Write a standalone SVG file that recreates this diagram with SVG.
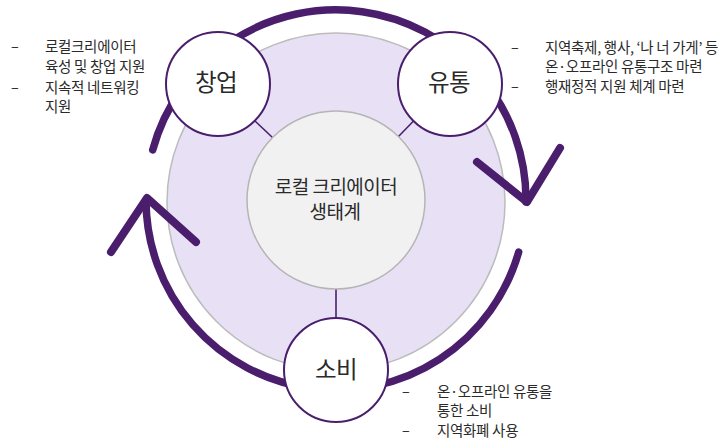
<svg xmlns="http://www.w3.org/2000/svg" width="727" height="445" viewBox="0 0 727 445">
<style>
.t{font-family:"Noto Sans CJK KR","Noto Sans",sans-serif;fill:#2a2a2a}
.list{font-size:14.5px;letter-spacing:-0.3px}
.node{font-size:23.5px;letter-spacing:-0.5px;text-anchor:middle}
.ctr{font-size:19px;letter-spacing:-0.5px;text-anchor:middle}
.arc{fill:none;stroke:#4a1e6c;stroke-width:7.5;stroke-linecap:round}
.head{fill:none;stroke:#4a1e6c;stroke-width:8;stroke-linecap:round;stroke-linejoin:round}
.conn{stroke:#4a1e6c;stroke-width:1.6}
.nc{fill:#ffffff;stroke:#4a1e6c;stroke-width:2}
</style>
<rect width="727" height="445" fill="#ffffff"/>
<g id="ring">
<circle cx="336" cy="202" r="169" fill="#e8e0f4" stroke="#bcbcbc" stroke-width="1.5"/>
</g>
<g id="cycle-arrows">
<path class="arc" d="M152.7,149.9 A190,190 0 0 1 526,202"/>
<polyline class="head" points="477,162 527,202 560,148"/>
<path class="arc" d="M518.7,252 A190,190 0 0 1 146,200"/>
<polyline class="head" points="111,252 147,198 196,242"/>
</g>
<g id="connectors">
<line class="conn" x1="255" y1="121" x2="273" y2="138"/>
<line class="conn" x1="413.5" y1="121" x2="398" y2="137"/>
<line class="conn" x1="336" y1="289" x2="336" y2="318"/>
</g>
<g id="center">
<circle cx="336" cy="200" r="89" fill="#f1f1f1" stroke="#b5b5b5" stroke-width="1.5"/>
<text class="t ctr" x="336" y="194">로컬 크리에이터</text>
<text class="t ctr" x="335" y="219">생태계</text>
</g>
<g id="node-startup">
<circle class="nc" cx="218" cy="84" r="52"/>
<text class="t node" x="216" y="91">창업</text>
</g>
<g id="node-distribution">
<circle class="nc" cx="450" cy="84" r="52"/>
<text class="t node" x="449" y="91">유통</text>
</g>
<g id="node-consumption">
<circle class="nc" cx="336" cy="370" r="52"/>
<text class="t node" x="336" y="378">소비</text>
</g>
<g id="notes-startup">
<text class="t list" x="11" y="52">–</text>
<text class="t list" x="45" y="52">로컬크리에이터</text>
<text class="t list" x="45" y="72">육성 및 창업 지원</text>
<text class="t list" x="11" y="93">–</text>
<text class="t list" x="45" y="93">지속적 네트워킹</text>
<text class="t list" x="45" y="112">지원</text>
</g>
<g id="notes-distribution">
<text class="t list" x="511" y="53">–</text>
<text class="t list" x="545" y="53">지역축제, 행사, ‘나 너 가게’ 등</text>
<text class="t list" x="545" y="72">온·오프라인 유통구조 마련</text>
<text class="t list" x="511" y="92">–</text>
<text class="t list" x="545" y="92">행재정적 지원 체계 마련</text>
</g>
<g id="notes-consumption">
<text class="t list" x="402" y="397">–</text>
<text class="t list" x="437" y="397">온·오프라인 유통을</text>
<text class="t list" x="437" y="416">통한 소비</text>
<text class="t list" x="402" y="436">–</text>
<text class="t list" x="437" y="436">지역화폐 사용</text>
</g>
</svg>
